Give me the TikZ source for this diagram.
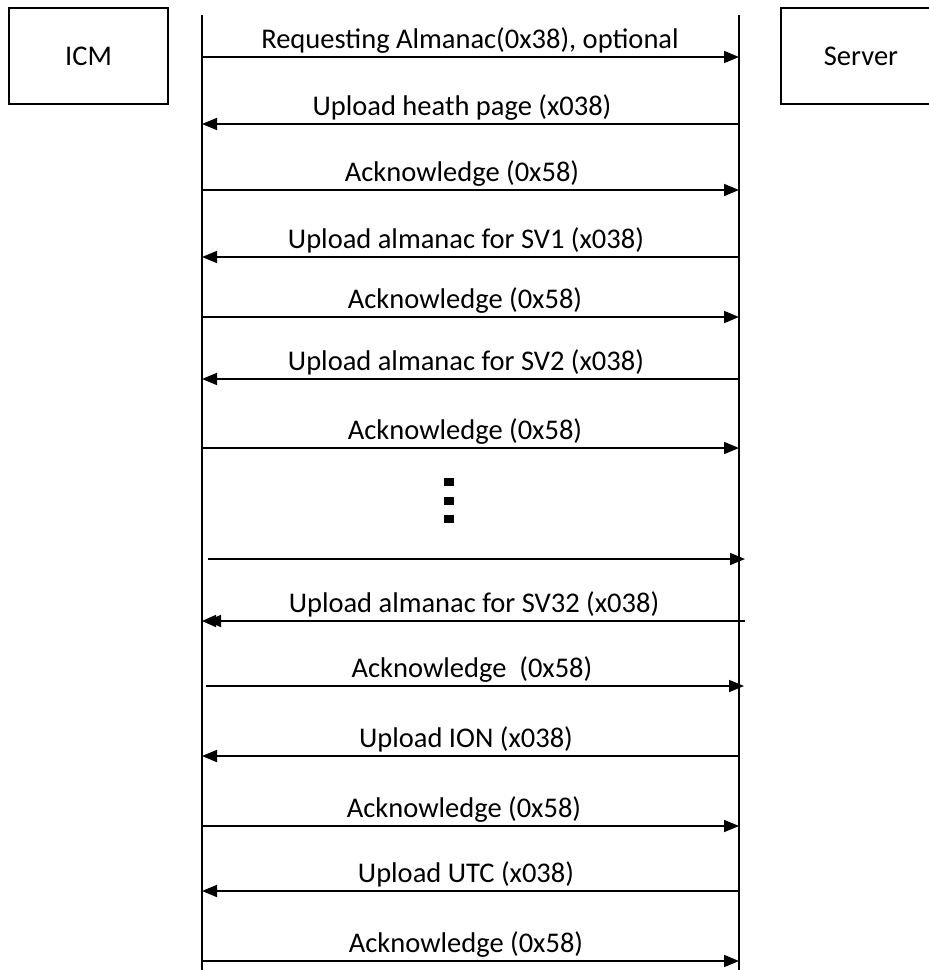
\documentclass[tikz,border=0pt]{standalone}
\usepackage{fontspec}
\setmainfont{Carlito}
\usetikzlibrary{arrows.meta}
\begin{document}
\begin{tikzpicture}[x=1pt,y=-1pt,
  actor/.style={draw,line width=1.3pt,minimum width=159pt,minimum height=96pt,inner sep=0pt,font=\fontsize{28.5}{34}\selectfont},
  life/.style={line width=1.3pt},
  msg/.style={line width=1.6pt,-{Triangle[length=15pt,width=12pt]}},
  msgdbl/.style={line width=1.6pt,-{Triangle[length=14pt,width=12pt,sep=-9pt]Triangle[length=14pt,width=12pt]}},
  lbl/.style={anchor=base,inner sep=0pt,font=\fontsize{28.5}{34}\selectfont},
  dotsq/.style={fill=black,draw=none}]
\useasboundingbox (0,0) rectangle (929,970);
% actors
\node[actor] (icm) at (88.5,56) {ICM};
\node[actor,minimum width=160pt] (srv) at (861,56) {Server};
% lifelines
\coordinate (lt) at (202,15); \coordinate (lb) at (202,975);
\coordinate (rt) at (739,15); \coordinate (rb) at (739,975);
\draw[life] (lt) -- (lb);
\draw[life] (rt) -- (rb);
% message endpoints
\foreach \n/\y in {1/57,2/124,3/190,4/257,5/317,6/379,7/448,10/621,12/756,13/826,14/891,15/961}{
  \coordinate (a\n) at (202,\y);
  \coordinate (b\n) at (739,\y);
}
\coordinate (a9) at (208,559); \coordinate (b9) at (745,559);
\coordinate (b10x) at (745,621); \coordinate (a11) at (206,686); \coordinate (b11) at (744,686);
% messages
\draw[msg] (a1) -- (b1);
\node[lbl] (t1) at (470,48) {Requesting Almanac(0x38), optional};
\draw[msg] (b2) -- (a2);
\node[lbl] (t2) at (462,115) {Upload heath page (x038)};
\draw[msg] (a3) -- (b3);
\node[lbl] (t3) at (462,181) {Acknowledge (0x58)};
\draw[msg] (b4) -- (a4);
\node[lbl] (t4) at (466,248) {Upload almanac for SV1 (x038)};
\draw[msg] (a5) -- (b5);
\node[lbl] (t5) at (465,308) {Acknowledge (0x58)};
\draw[msg] (b6) -- (a6);
\node[lbl] (t6) at (466,370) {Upload almanac for SV2 (x038)};
\draw[msg] (a7) -- (b7);
\node[lbl] (t7) at (465,439) {Acknowledge (0x58)};
% dots
\fill[dotsq] (444,478) rectangle (454,486);
\fill[dotsq] (444,497) rectangle (454,505);
\fill[dotsq] (444,515) rectangle (454,523);
\draw[msg] (a9) -- (b9);
\draw[msgdbl] (b10x) -- (a10);
\node[lbl] (t10) at (474,612) {Upload almanac for SV32 (x038)};
\draw[msg] (a11) -- (b11);
\node[lbl] (t11) at (472,677) {Acknowledge\ \ (0x58)};
\draw[msg] (b12) -- (a12);
\node[lbl] (t12) at (466,747) {Upload ION (x038)};
\draw[msg] (a13) -- (b13);
\node[lbl] (t13) at (464,817) {Acknowledge (0x58)};
\draw[msg] (b14) -- (a14);
\node[lbl] (t14) at (466,882) {Upload UTC (x038)};
\draw[msg] (a15) -- (b15);
\node[lbl] (t15) at (466,952) {Acknowledge (0x58)};
\end{tikzpicture}
\end{document}
